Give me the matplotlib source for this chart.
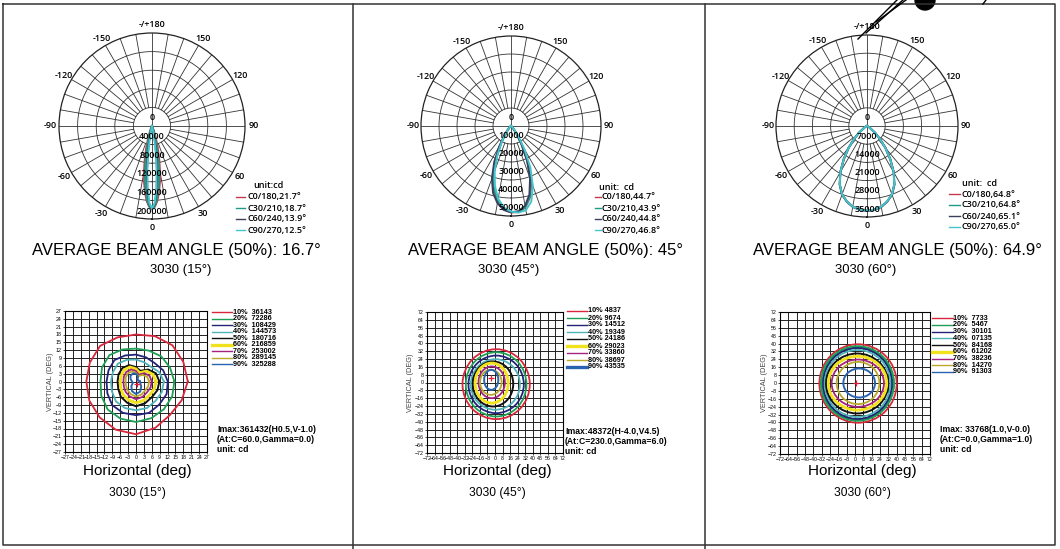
import numpy as np
import matplotlib
matplotlib.use("Agg")
import matplotlib.pyplot as plt
from matplotlib import font_manager
from matplotlib.patches import Ellipse

W, H = 1060, 549

# ---------------- data ----------------
c_planes = ['C0/180', 'C30/210', 'C60/240', 'C90/270']
beam_angles = [[21.7, 18.7, 13.9, 12.5],
               [44.7, 43.9, 44.8, 46.8],
               [64.8, 64.8, 65.1, 65.0]]
avg_beam = ['16.7°', '45°', '64.9°']
models = ['3030 (15°)', '3030 (45°)', '3030 (60°)']

polar_rticks = [[0, 40000, 80000, 120000, 160000, 200000],
                [0, 10000, 20000, 30000, 40000, 50000],
                [0, 7000, 14000, 21000, 28000, 35000]]
angle_ticks = [0, 30, 60, 90, 120, 150, 180, 210, 240, 270, 300, 330]
angle_labels = ['0', '30', '60', '90', '120', '150', '-/+180',
                '-150', '-120', '-90', '-60', '-30']

# 15 deg lens, gamma (deg) and intensity (cd) per C plane
gamma1 = [-40, -30, -26, -22, -18, -15, -12, -10, -8, -6, -4, -2, 0,
          2, 4, 6, 8, 10, 12, 15, 18, 22, 26, 30, 40]
c0_15 = [300, 1000, 3400, 10300, 26500, 47300, 76200, 98800, 122100, 144000, 162000, 173900, 178000,
         173900, 162000, 144000, 122100, 98800, 76200, 47300, 26500, 10300, 3400, 1000, 300]
c30_15 = [100, 400, 1000, 3800, 13700, 29900, 56800, 80500, 107100, 133800, 156900, 172500, 178000,
          172500, 156900, 133800, 107100, 80500, 56800, 29900, 13700, 3800, 1000, 400, 100]
c60_15 = [0, 0, 100, 400, 1700, 7100, 22600, 42400, 71000, 106300, 141500, 168000, 178000,
          168000, 141500, 106300, 71000, 42400, 22600, 7100, 1700, 400, 100, 0, 0]
c90_15 = [0, 0, 0, 100, 600, 3300, 13800, 30200, 57100, 94000, 134000, 165900, 178000,
          165900, 134000, 94000, 57100, 30200, 13800, 3300, 600, 100, 0, 0, 0]

# 45 deg lens
gamma2 = [-90, -60, -50, -40, -35, -30, -25, -20, -15, -10, -5, 0,
          5, 10, 15, 20, 25, 30, 35, 40, 50, 60, 90]
c0_45 = [0, 200, 700, 2600, 5500, 11000, 19000, 28500, 36500, 42500, 46500, 48000,
         48000, 46000, 41000, 33000, 22500, 12500, 6000, 2600, 700, 200, 0]
c30_45 = [0, 200, 600, 2300, 5000, 10500, 18500, 28000, 36000, 42000, 46000, 47800,
          47800, 45800, 40500, 32000, 21500, 11500, 5500, 2300, 600, 200, 0]
c60_45 = [0, 200, 800, 3000, 6500, 13000, 22000, 31000, 38500, 43500, 46800, 48000,
          47500, 45000, 39500, 31000, 21000, 11500, 5500, 2400, 700, 200, 0]
c90_45 = [0, 200, 700, 2500, 5200, 10500, 18000, 26500, 34500, 41000, 45500, 47500,
          48300, 47500, 43500, 35500, 25500, 15000, 7500, 3200, 900, 250, 0]

# 60 deg lens
gamma3 = [-90, -70, -60, -50, -45, -40, -35, -30, -25, -20, -15, -10, -5, 0,
          5, 10, 15, 20, 25, 30, 35, 40, 45, 50, 60, 70, 90]
c0_60 = [0, 300, 1000, 4000, 7000, 11000, 15500, 20500, 24800, 28000, 30000, 31500, 32300, 32500,
         32300, 31500, 30000, 28000, 24800, 20500, 15500, 11000, 7000, 4000, 1000, 300, 0]
c30_60 = [0, 300, 1000, 4000, 7000, 11000, 15500, 20400, 24700, 28000, 30000, 31500, 32300, 32600,
          32400, 31600, 30100, 28100, 25000, 20600, 15600, 11100, 7000, 4000, 1000, 300, 0]
c60_60 = [0, 300, 1000, 4100, 7100, 11100, 15700, 20600, 24900, 28100, 30100, 31600, 32400, 32600,
          32400, 31600, 30100, 28100, 24900, 20600, 15700, 11100, 7100, 4100, 1000, 300, 0]
c90_60 = [0, 300, 1000, 4000, 7000, 11000, 15600, 20500, 24800, 28000, 30000, 31500, 32300, 32500,
          32300, 31500, 30000, 28000, 24800, 20500, 15600, 11000, 7000, 4000, 1000, 300, 0]

polar_gamma = [gamma1, gamma2, gamma3]
polar_curves = [[c0_15, c30_15, c60_15, c90_15],
                [c0_45, c30_45, c60_45, c90_45],
                [c0_60, c30_60, c60_60, c90_60]]

# iso-candela levels
levels = ['10%', '20%', '30%', '40%', '50%', '60%', '70%', '80%', '90%']
level_cd = [['36143', '72286', '108429', '144573', '180716', '216859', '253002', '289145', '325288'],
            ['4837', '9674', '14512', '19349', '24186', '29023', '33860', '38697', '43535'],
            ['7733', '5467', '30101', '07135', '84168', '61202', '38236', '14270', '91303']]

# 15 deg: contour radius (deg) at directions 0, 22.5, 45 ... 337.5
iso1 = [
    [19.7, 19.5, 19.6, 18.8, 18.0, 18.3, 19.3, 19.0, 18.9, 19.2, 19.5, 20.0, 20.2, 19.2, 18.2, 18.8],
    [14.6, 14.0, 13.6, 12.8, 12.6, 13.3, 14.3, 14.0, 13.5, 14.3, 15.2, 15.4, 15.5, 15.2, 15.0, 14.9],
    [12.1, 11.2, 10.0, 10.0, 10.3, 10.8, 11.6, 11.3, 11.2, 11.8, 12.8, 13.0, 12.9, 13.0, 12.5, 12.6],
    [10.6, 9.5, 8.0, 8.0, 8.4, 9.0, 9.7, 9.5, 9.5, 9.9, 10.8, 11.0, 11.0, 11.0, 10.5, 10.6],
    [8.9, 8.2, 6.5, 4.4, 5.5, 6.8, 7.3, 7.2, 7.0, 7.3, 8.2, 8.8, 9.5, 9.0, 8.5, 8.8],
    [7.6, 7.0, 5.6, 3.6, 4.8, 6.0, 6.3, 6.1, 6.0, 6.3, 7.0, 7.6, 8.2, 7.8, 7.3, 7.5],
    [6.0, 5.6, 4.5, 2.8, 4.0, 5.0, 5.2, 5.0, 4.8, 5.0, 5.6, 6.2, 6.8, 6.4, 5.9, 6.0],
    [5.0, 4.6, 3.6, 2.2, 3.3, 4.2, 4.4, 4.2, 4.0, 4.1, 4.6, 5.2, 5.8, 5.4, 4.9, 5.0],
    [1.5, 1.0, 0.8, 2.0, 3.0, 3.3, 3.0, 2.2, 1.5, 1.3, 2.5, 4.0, 4.8, 4.2, 2.8, 1.8],
]
# 45 / 60 deg: near-elliptic contours (cx, cy, rx, ry) in deg
iso2_cx = [1.2, 1.2, 1.2, 0.4, -2.1, -3.5, -3.5, -4.4, -4.0]
iso2_cy = [-1.7, -1.9, -1.9, -2.0, -1.5, -0.6, 0.2, 0.2, 2.7]
iso2_rx = [35.6, 32.1, 29.3, 26.0, 21.4, 17.5, 14.0, 11.4, 7.5]
iso2_ry = [35.7, 32.8, 29.4, 25.8, 23.0, 20.4, 16.2, 12.8, 10.2]
iso3_cx = [2.9, 2.4, 2.4, 2.4, 2.1, 2.4, 2.7, 2.9, 4.0]
iso3_cy = [-0.5, -0.5, -0.5, -0.5, -0.5, -0.2, -0.2, 0.0, 0.0]
iso3_rx = [37.1, 34.4, 33.0, 31.5, 29.9, 28.0, 25.1, 20.5, 15.2]
iso3_ry = [39.8, 37.1, 36.0, 34.0, 30.4, 27.3, 24.0, 21.4, 14.7]

imax_pos = [(0.5, -1.0), (-4.0, 4.5), (1.0, 0.0)]
imax_text = [['Imax:361432(H0.5,V-1.0)', '(At:C=60.0,Gamma=0.0)', 'unit: cd'],
             ['Imax:48372(H-4.0,V4.5)', '(At:C=230.0,Gamma=6.0)', 'unit: cd'],
             ['Imax: 33768(1.0,V-0.0)', '(At:C=0.0,Gamma=1.0)', 'unit: cd']]
iso_ticks = [list(range(-27, 28, 3)), list(range(-72, 73, 8)), list(range(-72, 73, 8))]

# ---------------- style ----------------
names = {f.name for f in font_manager.fontManager.ttflist}
HAS_NARROW = 'Liberation Sans Narrow' in names
NARROW = 'Liberation Sans Narrow' if HAS_NARROW else 'Liberation Sans'
NS = 1.0 if HAS_NARROW else 0.82
SEMI = 'Open Sans' if 'Open Sans' in names else 'DejaVu Sans'

plane_colors = ['#c23a4e', '#1f9c86', '#3b3f5e', '#45c4cc']
level_colors = ['#d8263a', '#1f9e55', '#23237a', '#4fb3b8', '#111111',
                '#f2e21e', '#a3237f', '#b8a92a', '#2a63b0']
level_lw = [1.3, 1.3, 1.3, 1.3, 1.4, 2.1, 1.3, 1.3, 1.4]

polar_geo = [(152, 126, 93), (511, 126, 90), (867, 126, 91)]
polar_leg = [(236, 245, 247, 253, 186, 197), (595, 601, 602, 599, 187, 197),
             (949, 960, 961, 962, 184, 194)]
iso_box = [(65, 311, 207, 452), (427, 312, 563, 453), (780, 312, 930, 454)]
iso_leg = [(212, 232, 233, 312.3, 6.5), (567, 587, 588, 311, 7.0), (932, 953, 953, 318.3, 6.7)]
imax_xy = [(217, 430), (565, 432), (940, 429)]
vlabel_x = [51, 410, 765]
panel_cx = [176, 545, 897]
sub_cx = [181, 509, 866]
bot_cx = [137, 497, 862]


def fig_rect(x0, y0, x1, y1):
    return [x0 / W, 1 - y1 / H, (x1 - x0) / W, (y1 - y0) / H]


fig = plt.figure(figsize=(W / 100, H / 100), dpi=100)
ov = fig.add_axes([0, 0, 1, 1])
ov.set_xlim(0, W)
ov.set_ylim(H, 0)
ov.axis('off')
ov.set_zorder(5)

# panel frame
ov.plot([3, 1055, 1055, 3, 3], [4, 4, 545, 545, 4], color='#333', lw=1.1)
for xv in (353, 705):
    ov.plot([xv, xv], [4, 549], color='#333', lw=1.1)
# stray drawing at top right
ov.plot([858, 897], [39, 0], color='k', lw=1.0)
ov.plot([866, 903], [33, 0], color='k', lw=1.0)
ov.plot([876, 906], [22, 0], color='k', lw=1.0)
ov.add_patch(plt.Circle((925, 0), 10, color='k'))
ov.plot([983, 986], [4, 0], color='k', lw=1.0)

circ = np.linspace(0, 2 * np.pi, 361)

for k in range(3):
    cx, cy, R = polar_geo[k]
    rmax = polar_rticks[k][-1]
    ax = fig.add_axes(fig_rect(cx - R, cy - R, cx + R, cy + R), projection='polar')
    ax.set_theta_zero_location('S')
    ax.set_theta_direction(1)
    ax.set_ylim(0, rmax)
    ax.grid(False)
    ax.set_xticks([])
    ax.set_yticks([])
    ax.spines['polar'].set_linewidth(0.9)
    ax.spines['polar'].set_color('#222')
    for rv in polar_rticks[k][1:-1]:
        ax.plot(circ, np.full_like(circ, rv), color='#333', lw=0.6)
    for a in range(0, 360, 10):
        r0 = 0 if a % 90 == 0 else polar_rticks[k][1]
        ax.plot([np.deg2rad(a)] * 2, [r0, rmax], color='#333', lw=0.6)
    th = np.deg2rad(polar_gamma[k])
    for vals, col in zip(polar_curves[k], plane_colors):
        ax.plot(th, vals, color=col, lw=1.4)
    for rv in polar_rticks[k]:
        ax.annotate(str(rv), xy=(0, rv), xytext=(0, 8), textcoords='offset pixels',
                    ha='center', va='center', fontsize=6.5, family=SEMI,
                    weight='semibold', zorder=6)
    for a, lab in zip(angle_ticks, angle_labels):
        ax.text(np.deg2rad(a), rmax * 1.09, lab, ha='center', va='center',
                fontsize=6.5, family=SEMI, weight='semibold', clip_on=False)

    lx0, lx1, tx, ux, uy, ry = polar_leg[k]
    ov.text(ux, uy, 'unit:cd' if k == 0 else 'unit:  cd', ha='left', va='center',
            fontsize=6.5, family=SEMI, weight='semibold')
    for i, (pl, ba, col) in enumerate(zip(c_planes, beam_angles[k], plane_colors)):
        y = ry + i * 11
        ov.plot([lx0, lx1], [y, y], color=col, lw=1.0)
        ov.text(tx, y, f'{pl},{ba}°', ha='left', va='center', fontsize=6.5,
                family=SEMI, weight='semibold')

    ov.text(panel_cx[k], 250, f'AVERAGE BEAM ANGLE (50%): {avg_beam[k]}', ha='center',
            va='center', fontsize=(13.5 if HAS_NARROW else 12), family=NARROW)
    ov.text(sub_cx[k], 270, models[k], ha='center', va='center', fontsize=11.5 * NS,
            family=NARROW)

    # iso-candela diagram
    x0, y0, x1, y1 = iso_box[k]
    ai = fig.add_axes(fig_rect(x0, y0, x1, y1))
    t = iso_ticks[k]
    ai.set_xlim(t[0], t[-1])
    ai.set_ylim(t[0], t[-1])
    ai.set_xticks(t)
    ai.set_yticks(t)
    ai.tick_params(labelsize=3.8, length=1.5, width=0.5, pad=0.8)
    for lab in ai.get_xticklabels() + ai.get_yticklabels():
        lab.set_family(NARROW)
    ai.grid(True, color='#222', lw=0.7)
    ai.set_axisbelow(True)
    for s in ai.spines.values():
        s.set_linewidth(0.8)
    if k == 0:
        ang = np.deg2rad(np.append(np.arange(16) * 22.5, 360))
        for rr, col, lw in zip(iso1, level_colors, level_lw):
            rr = np.array(rr + rr[:1])
            ai.plot(rr * np.cos(ang), rr * np.sin(ang), color=col, lw=lw)
    else:
        cxs, cys, rxs, rys = ((iso2_cx, iso2_cy, iso2_rx, iso2_ry) if k == 1 else
                              (iso3_cx, iso3_cy, iso3_rx, iso3_ry))
        for i in range(9):
            lw = level_lw[i]
            if k == 2 and i == 1:
                lw = 2.4
            ai.add_patch(Ellipse((cxs[i], cys[i]), 2 * rxs[i], 2 * rys[i], fill=False,
                                 ec=level_colors[i], lw=lw))
    ai.plot(*imax_pos[k], marker='+', color='#e0203a', ms=4, mew=0.9)

    lx0, lx1, tx, ly, step = iso_leg[k]
    for i, (lv, cd, col) in enumerate(zip(levels, level_cd[k], level_colors)):
        y = ly + i * step
        lw = 2.4 if i == 5 or (k == 1 and i == 8) else 1.0
        ov.plot([lx0, lx1], [y, y], color=col, lw=lw)
        ov.text(tx, y, f'{lv}  {cd}' if k != 1 else f'{lv} {cd}', ha='left', va='center',
                fontsize=(6.2 if HAS_NARROW else 5.2), family=NARROW, weight='bold')

    ix, iy = imax_xy[k]
    for j, s in enumerate(imax_text[k]):
        ov.text(ix, iy + j * 10, s, ha='left', va='center',
                fontsize=(7.5 if HAS_NARROW else 6.2), family=NARROW, weight='bold')

    ov.text(vlabel_x[k], (y0 + y1) / 2, 'VERTICAL (DEG)', rotation=90, ha='center',
            va='center', fontsize=6.5 * NS, family=NARROW, color='#444')
    ov.text(bot_cx[k], 471, 'Horizontal (deg)', ha='center', va='center', fontsize=11,
            family='Liberation Sans')
    ov.text(bot_cx[k], 493, models[k], ha='center', va='center', fontsize=10.5 * NS,
            family=NARROW)

fig.savefig('out.png', dpi=100)
